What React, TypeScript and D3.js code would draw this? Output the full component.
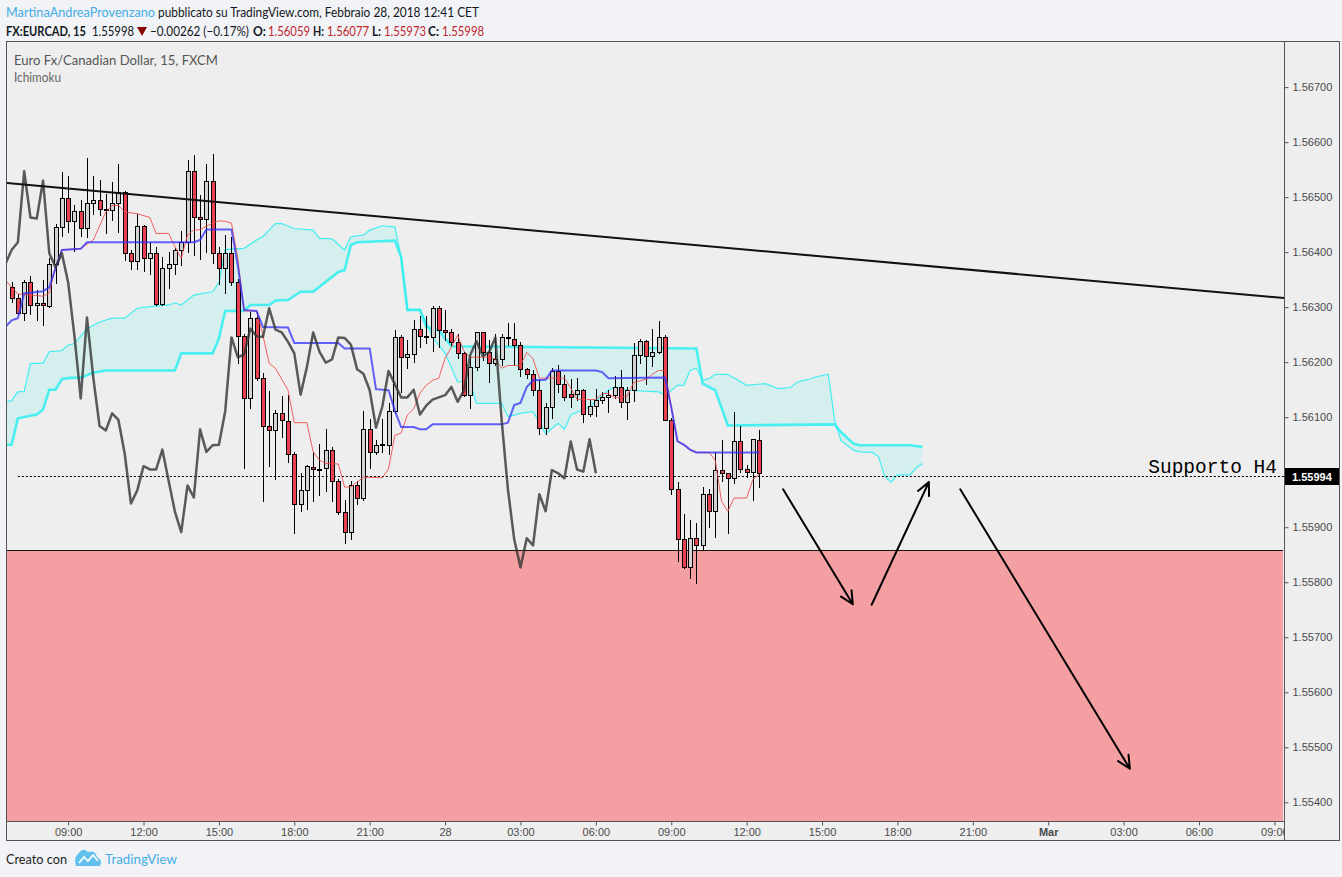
import React, { useEffect, useRef } from 'react';
import * as d3 from 'd3';

const WIDTH = 1342;
const HEIGHT = 877;

// 15 minute bars, bar 0 = 27 Feb 09:00
const BAR_ZERO = Date.UTC(2018, 1, 27, 9, 0);
const BAR_MS = 15 * 60 * 1000;
const FIRST_BAR = -9;
const viewStart = new Date(Date.UTC(2018, 1, 27, 6, 34));
const viewEnd = new Date(Date.UTC(2018, 2, 1, 9, 23));
const priceMin = 1.55366;
const priceMax = 1.56782;

const opens = [
  1.56336, 1.56316, 1.5629, 1.56345, 1.56304, 1.56307, 1.56302, 1.56378, 1.56445,
  1.56499, 1.56456, 1.56474, 1.56443, 1.56489, 1.56494, 1.56479, 1.56476, 1.5649, 1.56509,
  1.56398, 1.56384, 1.56447, 1.56389, 1.56398, 1.56305, 1.56372, 1.56378, 1.56404, 1.56418,
  1.56547, 1.56463, 1.56461, 1.5653, 1.56398, 1.56372, 1.56398, 1.56345, 1.56248, 1.56134,
  1.56281, 1.56172, 1.56084, 1.56076, 1.56107, 1.56093, 1.56034, 1.55943, 1.55967, 1.5601,
  1.56006, 1.56007, 1.56041, 1.55984, 1.55928, 1.55891, 1.55976, 1.55954, 1.56078, 1.56037,
  1.56051, 1.5605, 1.56111, 1.56245, 1.56209, 1.56214, 1.56261, 1.56247, 1.56246, 1.56298,
  1.56259, 1.56254, 1.56237, 1.56216, 1.56141, 1.56191, 1.56254, 1.56219, 1.56199, 1.56205,
  1.56245, 1.56243, 1.56232, 1.56187, 1.56179, 1.56149, 1.56081, 1.56119, 1.56184, 1.5616,
  1.56143, 1.56143, 1.5615, 1.56105, 1.56121, 1.56132, 1.56136, 1.5614, 1.56155, 1.56128,
  1.56149, 1.56213, 1.56238, 1.56211, 1.56218, 1.56245, 1.56095, 1.55969, 1.55878, 1.55827,
  1.5588, 1.55867, 1.5596, 1.55929, 1.56004, 1.55998, 1.55989, 1.56056, 1.56005, 1.56001,
  1.56059,
];
const highs = [
  1.56345, 1.56324, 1.56349, 1.56356, 1.56331, 1.56349, 1.56389, 1.56452, 1.56545,
  1.56538, 1.56485, 1.56494, 1.56572, 1.56538, 1.56532, 1.56505, 1.56528, 1.56561, 1.56511,
  1.56404, 1.56469, 1.56449, 1.56418, 1.56409, 1.56391, 1.56401, 1.56407, 1.56438, 1.56567,
  1.56577, 1.56504, 1.5656, 1.56579, 1.5641, 1.56431, 1.56428, 1.56352, 1.56252, 1.56291,
  1.56291, 1.5618, 1.56148, 1.56113, 1.56139, 1.5614, 1.56037, 1.55998, 1.56014, 1.56037,
  1.56052, 1.56078, 1.56046, 1.55987, 1.55949, 1.55984, 1.55984, 1.56111, 1.56096, 1.56058,
  1.56096, 1.56125, 1.56259, 1.56249, 1.56241, 1.56276, 1.56284, 1.56284, 1.56302, 1.56302,
  1.56295, 1.56261, 1.56252, 1.56219, 1.5621, 1.56255, 1.56255, 1.5624, 1.56252, 1.56252,
  1.56271, 1.56272, 1.56237, 1.56189, 1.56185, 1.56167, 1.56126, 1.56189, 1.56194, 1.56176,
  1.5617, 1.56172, 1.56151, 1.56131, 1.56152, 1.56146, 1.56149, 1.56175, 1.56185, 1.56155,
  1.56234, 1.56243, 1.5624, 1.5626, 1.56275, 1.56249, 1.56098, 1.55982, 1.55924, 1.55913,
  1.55907, 1.55973, 1.5597, 1.56036, 1.56058, 1.55998, 1.56109, 1.56084, 1.56013, 1.5606,
  1.56077,
];
const lows = [
  1.5631, 1.56287, 1.56276, 1.56287, 1.56276, 1.56267, 1.563, 1.56344, 1.56429,
  1.56437, 1.56402, 1.56429, 1.56428, 1.56469, 1.56467, 1.56434, 1.56458, 1.56437, 1.56385,
  1.56369, 1.56369, 1.56365, 1.56361, 1.56304, 1.56304, 1.56334, 1.56361, 1.56376, 1.56401,
  1.56395, 1.56387, 1.56401, 1.56381, 1.56343, 1.56326, 1.5634, 1.56198, 1.56007, 1.56116,
  1.56167, 1.55948, 1.56011, 1.55987, 1.56064, 1.56019, 1.5589, 1.5593, 1.55934, 1.55948,
  1.55958, 1.55966, 1.55948, 1.55924, 1.55871, 1.55878, 1.55943, 1.55949, 1.56008, 1.56033,
  1.56037, 1.56034, 1.56108, 1.56146, 1.56189, 1.562, 1.56228, 1.56234, 1.56221, 1.56228,
  1.5624, 1.56231, 1.56207, 1.56138, 1.56116, 1.56185, 1.56204, 1.56164, 1.56195, 1.56195,
  1.56231, 1.56195, 1.56175, 1.56171, 1.5614, 1.56069, 1.56069, 1.56098, 1.56145, 1.56131,
  1.56119, 1.56131, 1.56091, 1.56102, 1.56102, 1.56126, 1.5611, 1.56134, 1.56119, 1.56096,
  1.5613, 1.56199, 1.5616, 1.56193, 1.56216, 1.56094, 1.55961, 1.55839, 1.55825, 1.55807,
  1.55798, 1.55858, 1.55901, 1.55882, 1.55984, 1.5589, 1.5598, 1.56, 1.55991, 1.55949,
  1.55973,
];
const closes = [
  1.56316, 1.5629, 1.56345, 1.56304, 1.56307, 1.56304, 1.56378, 1.56445, 1.56499,
  1.56456, 1.56474, 1.56443, 1.56489, 1.56494, 1.56479, 1.56476, 1.5649, 1.56509, 1.56398,
  1.56384, 1.56447, 1.56389, 1.56398, 1.56305, 1.56372, 1.56378, 1.56404, 1.56418, 1.56547,
  1.56463, 1.56461, 1.5653, 1.56398, 1.56372, 1.56398, 1.56345, 1.56248, 1.56134, 1.56281,
  1.56172, 1.56084, 1.56076, 1.56107, 1.56095, 1.56034, 1.55943, 1.55967, 1.56011, 1.56005,
  1.56005, 1.56041, 1.55984, 1.55928, 1.55891, 1.55976, 1.55954, 1.56078, 1.56037, 1.56049,
  1.5605, 1.56111, 1.56245, 1.56209, 1.56214, 1.56261, 1.56247, 1.56246, 1.56298, 1.56259,
  1.56254, 1.56237, 1.56216, 1.56141, 1.56191, 1.56254, 1.56219, 1.56199, 1.56205, 1.56245,
  1.56244, 1.56232, 1.56187, 1.56179, 1.56149, 1.56081, 1.56119, 1.56184, 1.5616, 1.56136,
  1.56136, 1.5615, 1.56105, 1.56121, 1.56132, 1.56136, 1.5614, 1.56155, 1.56128, 1.56149,
  1.56213, 1.56238, 1.56211, 1.56218, 1.56245, 1.56095, 1.55969, 1.55878, 1.55827, 1.5588,
  1.55867, 1.5596, 1.55929, 1.56004, 1.55998, 1.55989, 1.56056, 1.56005, 1.56001, 1.5606,
  1.55998,
];

// Ichimoku lines as [bar, price] vertices
const tenkan: [number, number][] = [
  [-10, 1.56349], [-8, 1.56324], [-4, 1.5632], [-3, 1.56326], [-2, 1.56373], [-1, 1.56404],
  [2, 1.56407], [4, 1.56422], [6, 1.56473], [7, 1.56485], [8, 1.56485], [9, 1.56473],
  [11, 1.5647], [13, 1.56463], [14, 1.56434], [16, 1.56434], [17, 1.5641], [18, 1.56389],
  [19, 1.56431], [20, 1.5644], [21, 1.56441], [23, 1.56453], [24, 1.56457], [25, 1.56456],
  [26, 1.56453], [27, 1.56389], [28, 1.56293], [30, 1.56293], [31, 1.56249], [32, 1.56198],
  [33, 1.56189], [35, 1.56149], [36, 1.5609], [38, 1.5609], [39, 1.56037], [40, 1.56022],
  [41, 1.56016], [43, 1.56015], [44, 1.55973], [45, 1.55973], [47, 1.55991], [50, 1.5599],
  [51, 1.56006], [52, 1.56067], [53, 1.56071], [54, 1.56104], [55, 1.56115], [56, 1.56144],
  [57, 1.56158], [58, 1.56167], [59, 1.56171], [60, 1.56207], [61, 1.56227], [62, 1.56249],
  [63, 1.5622], [64, 1.56209], [67, 1.56209], [68, 1.56206], [69, 1.56189], [70, 1.56194],
  [72, 1.56194], [73, 1.56218], [74, 1.56206], [75, 1.56171], [79, 1.56171], [80, 1.56153],
  [81, 1.56132], [84, 1.56132], [85, 1.56143], [86, 1.56143], [87, 1.56135], [89, 1.56138],
  [90, 1.56163], [92, 1.56169], [93, 1.56178], [94, 1.56185], [95, 1.56185], [96, 1.56118],
  [97, 1.56056], [98, 1.56049], [99, 1.5604], [100, 1.56036], [102, 1.56036], [103, 1.56022],
  [104, 1.55947], [105, 1.55929], [106, 1.55953], [108, 1.55953], [109, 1.55987], [110, 1.55996],
];
const kijun: [number, number][] = [
  [-10, 1.56264], [-9, 1.56276], [-8, 1.5628], [-7, 1.56325], [-4, 1.56329], [-3, 1.56336],
  [-2, 1.56371], [-1, 1.56404], [2, 1.56406], [3, 1.56418], [20, 1.56418], [21, 1.56422],
  [22, 1.56441], [26, 1.56441], [27, 1.56376], [28, 1.56295], [30, 1.56293], [31, 1.56264],
  [35, 1.56263], [36, 1.56235], [43, 1.56235], [44, 1.56225], [48, 1.56225], [49, 1.56151],
  [51, 1.56149], [52, 1.56112], [53, 1.56082], [55, 1.56082], [56, 1.56078], [57, 1.56078],
  [58, 1.56087], [69, 1.56087], [70, 1.5609], [71, 1.56122], [72, 1.56126], [73, 1.56155],
  [74, 1.56167], [76, 1.56168], [77, 1.56185], [84, 1.56185], [85, 1.56182], [86, 1.56171],
  [95, 1.56172], [96, 1.56118], [97, 1.56056], [98, 1.5605], [99, 1.56041], [100, 1.56036],
  [110, 1.56036],
];
const spanA: [number, number][] = [
  [-10, 1.56128], [-9, 1.5613], [-8, 1.56146], [-7, 1.56147], [-6, 1.56198], [-4, 1.56198],
  [-3, 1.56219], [-1, 1.56221], [0, 1.56231], [1, 1.56234], [3, 1.56261], [5, 1.56273],
  [7, 1.5628], [9, 1.5628], [11, 1.56298], [13, 1.56301], [16, 1.56304], [17, 1.56308],
  [18, 1.56304], [20, 1.56322], [23, 1.56328], [24, 1.56345], [25, 1.56405], [28, 1.56407],
  [30, 1.56422], [31, 1.56428], [33, 1.56452], [34, 1.56452], [36, 1.56443], [39, 1.5644],
  [40, 1.56425], [42, 1.56424], [44, 1.56404], [45, 1.56428], [47, 1.56431], [48, 1.5644],
  [50, 1.56448], [52, 1.56446], [53, 1.56391], [54, 1.56295], [56, 1.56295], [57, 1.56273],
  [58, 1.56245], [59, 1.56231], [60, 1.56216], [62, 1.56164], [64, 1.56164], [65, 1.56125],
  [69, 1.56125], [70, 1.56101], [72, 1.56107], [74, 1.5611], [75, 1.56091], [76, 1.5607],
  [78, 1.56089], [79, 1.56078], [80, 1.56104], [83, 1.56119], [86, 1.56149], [87, 1.56155],
  [89, 1.56149], [94, 1.56146], [95, 1.5614], [97, 1.56158], [98, 1.56158], [99, 1.56185],
  [100, 1.56189], [101, 1.56167], [102, 1.5617], [103, 1.56178], [105, 1.56178], [108, 1.56158],
  [111, 1.56161], [113, 1.56152], [115, 1.56154], [116, 1.56163], [117, 1.56167], [118, 1.56169],
  [119, 1.56173], [121, 1.56178], [122, 1.56095], [123, 1.56058], [125, 1.5604], [126, 1.56037],
  [128, 1.56036], [129, 1.56028], [130, 1.55992], [131, 1.55982], [132, 1.55995], [134, 1.55995],
  [135, 1.56008], [136, 1.56016],
];
const spanB: [number, number][] = [
  [-10, 1.5605], [-9, 1.5605], [-8, 1.56098], [-5, 1.56105], [-4, 1.56114], [-3, 1.5615],
  [-2, 1.5615], [-1, 1.56169], [0, 1.56171], [2, 1.56172], [4, 1.56181], [6, 1.56185],
  [17, 1.56185], [18, 1.56216], [23, 1.56216], [24, 1.56243], [25, 1.56293], [28, 1.56293],
  [29, 1.56304], [32, 1.56304], [33, 1.56312], [35, 1.56313], [37, 1.56328], [39, 1.56328],
  [41, 1.56346], [43, 1.56364], [44, 1.56367], [45, 1.56413], [46, 1.56418], [52, 1.56421],
  [53, 1.56391], [54, 1.56295], [56, 1.56295], [57, 1.56264], [59, 1.56258], [61, 1.56229],
  [100, 1.56225], [101, 1.56161], [103, 1.56149], [105, 1.56085], [122, 1.56087], [123, 1.56073],
  [125, 1.56052], [126, 1.56049], [134, 1.56049], [136, 1.56046],
];
const chikouShift = 26;

// user drawings
const trendLine: [number, number][] = [[-10, 1.56526], [194, 1.56316]];
const supportLevel = 1.55994;
const supportStartBar = -8;
const supportLabel = 'Supporto H4';
const redZoneTop = 1.55858;
const arrows: [number, number][][] = [
  [[113.8, 1.55969], [124.9, 1.5576]],
  [[127.9, 1.55759], [137, 1.55982]],
  [[142, 1.55969], [169, 1.55461]],
];

const authorName = 'MartinaAndreaProvenzano';
const publishedText = 'pubblicato su TradingView.com, Febbraio 28, 2018 12:41 CET';
const symbolText = 'FX:EURCAD, 15';
const lastText = '1.55998';
const changeText = '\u22120.00262 (\u22120.17%)';
const ohlcLabels = ['O:', 'H:', 'L:', 'C:'];
const ohlcValues = ['1.56059', '1.56077', '1.55973', '1.55998'];
const instrumentTitle = 'Euro Fx/Canadian Dollar, 15, FXCM';
const indicatorTitle = 'Ichimoku';
const lastPriceText = '1.55994';

const UI_FONT = 'Lato, "Noto Sans", sans-serif';
const AXIS_FONT = '"Liberation Sans", Arial, sans-serif';

type Part = { x: number; s: string; len: number; fill?: string; weight?: string };

export default function App() {
  const svgRef = useRef<SVGSVGElement>(null);

  useEffect(() => {
    if (!svgRef.current) return;
    const svg = d3.select(svgRef.current);
    svg.selectAll('*').remove();

    const plot = { left: 7, right: 1284, top: 42, bottom: 821 };
    const frame = { left: 6.5, top: 41.5, right: 1339.5, bottom: 840.5 };

    const x = d3.scaleTime().domain([viewStart, viewEnd]).range([plot.left, plot.right]);
    const y = d3.scaleLinear().domain([priceMin, priceMax]).range([plot.bottom, plot.top]);
    const bx = (i: number) => x(new Date(BAR_ZERO + i * BAR_MS));

    const text = (
      parent: any, tx: number, ty: number, s: string,
      o: { size?: number; fill?: string; weight?: string; len?: number; anchor?: string; family?: string } = {}
    ) => {
      const t = parent.append('text')
        .attr('x', tx).attr('y', ty)
        .attr('font-family', o.family || UI_FONT)
        .attr('font-size', o.size || 13)
        .attr('fill', o.fill || '#131722')
        .attr('font-weight', o.weight || 'normal')
        .attr('text-anchor', o.anchor || 'start')
        .text(s);
      if (o.len) t.attr('textLength', o.len).attr('lengthAdjust', 'spacingAndGlyphs');
      return t;
    };

    // one text element per header line, pieces placed as tspans
    const headerLine = (ty: number, parts: Part[]) => {
      const t = svg.append('text')
        .attr('y', ty)
        .attr('font-family', UI_FONT)
        .attr('font-size', 13.5)
        .attr('fill', '#131722');
      parts.forEach(p => {
        t.append('tspan')
          .attr('x', p.x)
          .attr('textLength', p.len)
          .attr('lengthAdjust', 'spacingAndGlyphs')
          .attr('fill', p.fill || '#131722')
          .attr('font-weight', p.weight || 'normal')
          .text(p.s);
      });
    };

    headerLine(17, [
      { x: 6, s: authorName, len: 149, fill: '#45ade4' },
      { x: 158, s: publishedText, len: 321 },
    ]);
    const labelX = [253, 313, 372, 428];
    const labelW = [13, 11, 9, 11];
    const valueX = [268, 327, 384, 442];
    const ohlcParts: Part[] = [];
    ohlcLabels.forEach((l, k) => {
      ohlcParts.push({ x: labelX[k], s: l, len: labelW[k], weight: 'bold' });
      ohlcParts.push({ x: valueX[k], s: ohlcValues[k], len: 42, fill: '#c0272d' });
    });
    headerLine(36, [
      { x: 6, s: symbolText, len: 80, weight: 'bold' },
      { x: 92, s: lastText, len: 42 },
      { x: 150, s: changeText, len: 99 },
      ...ohlcParts,
    ]);
    svg.append('path').attr('d', 'M137,27 L147,27 L142,36 Z').attr('fill', '#8b0000');

    // chart frame
    svg.append('rect')
      .attr('x', frame.left).attr('y', frame.top)
      .attr('width', frame.right - frame.left).attr('height', frame.bottom - frame.top)
      .attr('fill', '#eeeeee').attr('stroke', '#555');

    const defs = svg.append('defs');
    defs.append('clipPath').attr('id', 'plot-clip').append('rect')
      .attr('x', plot.left).attr('y', plot.top)
      .attr('width', plot.right - plot.left).attr('height', plot.bottom - plot.top);
    defs.append('clipPath').attr('id', 'time-clip').append('rect')
      .attr('x', plot.left).attr('y', plot.bottom)
      .attr('width', plot.right - plot.left).attr('height', 20);

    const g = svg.append('g').attr('clip-path', 'url(#plot-clip)');

    // target zone
    const zoneY = Math.round(y(redZoneTop)) + 0.5;
    g.append('rect')
      .attr('x', plot.left).attr('y', zoneY)
      .attr('width', plot.right - plot.left - 1).attr('height', plot.bottom - zoneY)
      .attr('fill', '#f4a0a2');
    g.append('line')
      .attr('x1', plot.left).attr('x2', plot.right - 1)
      .attr('y1', zoneY).attr('y2', zoneY)
      .attr('stroke', '#1a1111').attr('stroke-width', 1);

    // kumo
    const line = d3.line<[number, number]>().x(d => bx(d[0])).y(d => y(d[1]));
    g.append('path')
      .attr('d', line([...spanA, ...spanB.slice().reverse()]) + 'Z')
      .attr('fill', '#d5efee');
    g.append('path').attr('d', line(spanA))
      .attr('fill', 'none').attr('stroke', '#45eef0').attr('stroke-width', 1.2);
    g.append('path').attr('d', line(spanB))
      .attr('fill', 'none').attr('stroke', '#2eeef0').attr('stroke-width', 2.6).attr('opacity', 0.85);

    // support level
    const supY = Math.round(y(supportLevel)) + 0.5;
    g.append('line')
      .attr('x1', bx(supportStartBar)).attr('x2', plot.right)
      .attr('y1', supY).attr('y2', supY)
      .attr('stroke', '#000').attr('stroke-width', 1).attr('stroke-dasharray', '2,2');

    // candles
    const candles = g.append('g');
    opens.forEach((o, k) => {
      const i = FIRST_BAR + k;
      const c = closes[k];
      const cx = Math.round(bx(i));
      candles.append('line')
        .attr('x1', cx + 0.5).attr('x2', cx + 0.5)
        .attr('y1', Math.round(y(highs[k]))).attr('y2', Math.round(y(lows[k])) + 1)
        .attr('stroke', '#000').attr('stroke-width', 1);
      const top = Math.round(y(Math.max(o, c)));
      const bot = Math.round(y(Math.min(o, c)));
      candles.append('rect')
        .attr('x', cx - 1.5).attr('y', top + 0.5)
        .attr('width', 4).attr('height', Math.max(1, bot - top))
        .attr('fill', c >= o ? '#d2d2d2' : '#e8414f')
        .attr('stroke', '#000').attr('stroke-width', 1);
    });

    // tenkan / kijun / chikou
    g.append('path').attr('d', line(tenkan))
      .attr('fill', 'none').attr('stroke', '#f04848').attr('stroke-width', 1).attr('opacity', 0.85);
    g.append('path').attr('d', line(kijun))
      .attr('fill', 'none').attr('stroke', '#3030f8').attr('stroke-width', 2).attr('opacity', 0.75);
    const chikou: [number, number][] = closes.map((c, k) => [FIRST_BAR + k - chikouShift, c]);
    g.append('path').attr('d', line(chikou))
      .attr('fill', 'none').attr('stroke', '#333').attr('stroke-width', 2.5)
      .attr('stroke-linejoin', 'round').attr('opacity', 0.8);

    // trend line
    g.append('path').attr('d', line(trendLine))
      .attr('fill', 'none').attr('stroke', '#111').attr('stroke-width', 2);

    // arrows
    arrows.forEach(([s, e]) => {
      const sx = bx(s[0]), sy = y(s[1]), ex = bx(e[0]), ey = y(e[1]);
      const a = Math.atan2(ey - sy, ex - sx);
      const h = 14;
      const spread = 0.45;
      const p1 = [ex - h * Math.cos(a - spread), ey - h * Math.sin(a - spread)];
      const p2 = [ex - h * Math.cos(a + spread), ey - h * Math.sin(a + spread)];
      g.append('path')
        .attr('d', `M${sx},${sy}L${ex},${ey}M${p1[0]},${p1[1]}L${ex},${ey}L${p2[0]},${p2[1]}`)
        .attr('fill', 'none').attr('stroke', '#000').attr('stroke-width', 2)
        .attr('stroke-linecap', 'round').attr('stroke-linejoin', 'round');
    });

    text(g, 1277, supY - 4, supportLabel, {
      family: '"Liberation Mono", "Courier New", monospace', size: 19.5, fill: '#000', anchor: 'end',
    });

    // legend inside pane
    text(svg, 14, 65, instrumentTitle, { fill: '#555', len: 204 });
    text(svg, 14, 82, indicatorTitle, { fill: '#666', len: 47 });

    // separators
    svg.append('line')
      .attr('x1', plot.right + 0.5).attr('x2', plot.right + 0.5)
      .attr('y1', frame.top).attr('y2', frame.bottom)
      .attr('stroke', '#555');
    svg.append('line')
      .attr('x1', frame.left).attr('x2', plot.right + 0.5)
      .attr('y1', plot.bottom + 0.5).attr('y2', plot.bottom + 0.5)
      .attr('stroke', '#555');

    // price axis
    const lastY = y(supportLevel);
    const yTicks = y.ticks(14).filter(t => Math.abs(y(t) - lastY) > 10);
    const ya = svg.append('g')
      .attr('transform', `translate(${plot.right + 0.5},0)`)
      .call(d3.axisRight(y).tickValues(yTicks).tickSize(4).tickPadding(4).tickFormat(d3.format('.5f')));
    ya.select('.domain').remove();
    ya.attr('font-family', AXIS_FONT).attr('font-size', 11);
    ya.selectAll('line').attr('stroke', '#555');
    ya.selectAll('text').attr('fill', '#4a4a4a');

    svg.append('rect')
      .attr('x', plot.right + 1).attr('y', Math.round(lastY) - 8)
      .attr('width', frame.right - plot.right - 1.5).attr('height', 17)
      .attr('fill', '#000');
    text(svg, plot.right + 8, Math.round(lastY) + 4.5, lastPriceText, {
      family: AXIS_FONT, size: 11, fill: '#fff', weight: 'bold',
    });

    // time axis
    const fmtTime = (d: Date) => {
      if (d.getUTCHours() === 0 && d.getUTCMinutes() === 0) {
        return d.getUTCDate() === 1 ? d3.utcFormat('%b')(d) : String(d.getUTCDate());
      }
      return d3.utcFormat('%H:%M')(d);
    };
    const timeWrap = svg.append('g').attr('clip-path', 'url(#time-clip)');
    const xa = timeWrap.append('g')
      .attr('transform', `translate(0,${plot.bottom + 0.5})`)
      .call(d3.axisBottom(x).ticks(d3.utcHour.every(3) as any).tickSize(4).tickPadding(3)
        .tickFormat(fmtTime as any));
    xa.select('.domain').remove();
    xa.attr('font-family', AXIS_FONT).attr('font-size', 11);
    xa.selectAll('line').attr('stroke', '#555');
    xa.selectAll('text')
      .attr('fill', '#4a4a4a')
      .attr('font-weight', (d: any) => (d.getUTCHours() === 0 && d.getUTCDate() === 1 ? 'bold' : 'normal'));

    // footer
    text(svg, 6, 864, 'Creato con', { fill: '#222', len: 61 });
    svg.append('path')
      .attr('d', 'M76,866 L100,866 Q103,860 97,857 Q95,850 88,852 Q83,847 79,853 Q73,857 76,866 Z')
      .attr('fill', '#62c1ec');
    svg.append('path')
      .attr('d', 'M79,863 L84,857 L88,861 L93,855 L98,861')
      .attr('fill', 'none').attr('stroke', '#fff').attr('stroke-width', 1.6);
    text(svg, 105, 864, 'TradingView', { fill: '#45ade4', len: 72 });
  }, []);

  return (
    <div style={{ position: 'absolute', left: 0, top: 0 }}>
      <svg
        ref={svgRef}
        width={WIDTH}
        height={HEIGHT}
        style={{ display: 'block', background: '#f1f3f6' }}
      />
    </div>
  );
}
